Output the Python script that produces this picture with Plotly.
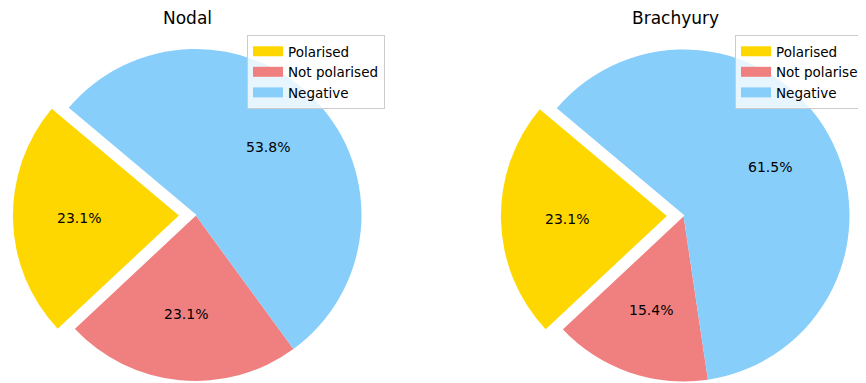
import math
import plotly.graph_objects as go

# ---- data ----
labels = ["Polarised", "Not polarised", "Negative"]
titles = ["Nodal", "Brachyury"]
nodal_values = [3, 3, 7]
brachyury_values = [3, 2, 8]
colors = ["#FFD700", "#F08080", "#87CEFA"]
explode = [0.1, 0, 0]
start_angle = 140  # degrees, counterclockwise from 3 o'clock

# ---- layout constants (pixels, in window coordinates) ----
W, H = 866, 383
OFF = 8  # default page body margin
R = 166
LABEL_R = 0.6
centers = [(195.5, 215.0), (683.5, 215.5)]
title_x = [187.5, 675.0]
title_y = 18
legend_pos = [(247, 35), (735, 35)]
FONT = "DejaVu Sans"

fig = go.Figure()


def domain_for(cx, cy, r):
    cx -= OFF
    cy -= OFF
    return dict(x=[(cx - r) / W, (cx + r) / W],
                y=[1 - (cy + r) / H, 1 - (cy - r) / H])


series = [nodal_values, brachyury_values]
for i, vals in enumerate(series):
    cx, cy = centers[i]
    dom = domain_for(cx, cy, R)
    total = sum(vals)
    # plotly (counterclockwise): first slice ends at `rotation` (clockwise from 12 o'clock)
    rot = 90 - start_angle - 360 * vals[0] / total
    # main pie (non-exploded slices)
    fig.add_trace(go.Pie(
        labels=labels, values=vals, sort=False, direction="counterclockwise",
        rotation=rot, domain=dom, marker=dict(colors=colors, line=dict(width=0)),
        textinfo="none", showlegend=False, hoverinfo="label+percent",
    ))
    # white cover for the exploded slice's original place
    fig.add_trace(go.Pie(
        labels=labels, values=vals, sort=False, direction="counterclockwise",
        rotation=rot, domain=dom,
        marker=dict(colors=["white" if e else "rgba(0,0,0,0)" for e in explode],
                    line=dict(width=[1.5 if e else 0 for e in explode], color="white")),
        textinfo="none", showlegend=False, hoverinfo="skip",
    ))
    # exploded slices shifted along their mid-angle, and percentage labels
    acc = 0
    for k, v in enumerate(vals):
        mid = math.radians(start_angle + 360 * (acc + v / 2) / total)
        ex = explode[k]
        if ex:
            dx = ex * R * math.cos(mid)
            dy = -ex * R * math.sin(mid)
            d2 = domain_for(cx + dx, cy + dy, R)
            fig.add_trace(go.Pie(
                labels=labels, values=vals, sort=False, direction="counterclockwise",
                rotation=rot, domain=d2,
                marker=dict(colors=[colors[j] if j == k else "rgba(0,0,0,0)" for j in range(len(vals))],
                            line=dict(width=0)),
                textinfo="none", showlegend=False, hoverinfo="label+percent",
            ))
        lx = cx + (LABEL_R + ex) * R * math.cos(mid) - OFF
        ly = cy - (LABEL_R + ex) * R * math.sin(mid) - OFF
        fig.add_annotation(text=f"{100 * v / total:.1f}%", x=lx / W, y=1 - ly / H,
                           xref="paper", yref="paper", xanchor="center", yanchor="middle",
                           showarrow=False, font=dict(family=FONT, size=14, color="black"))
        acc += v
    # legend entries (one legend per pie)
    legend_name = "legend" if i == 0 else "legend2"
    for lab, col in zip(labels, colors):
        fig.add_trace(go.Scatter(
            x=[None], y=[None], mode="lines", name=lab,
            line=dict(color=col, width=10), legend=legend_name, showlegend=True,
            hoverinfo="skip",
        ))

for i, t in enumerate(titles):
    fig.add_annotation(text=t, x=(title_x[i] - OFF) / W, y=1 - (title_y - OFF) / H,
                       xref="paper", yref="paper",
                       xanchor="center", yanchor="middle", showarrow=False,
                       font=dict(family=FONT, size=17, color="black"))

leg_common = dict(xanchor="left", yanchor="top", bgcolor="rgba(255,255,255,0.8)",
                  bordercolor="#cccccc", borderwidth=1,
                  font=dict(family=FONT, size=13.5, color="black"), traceorder="normal")
fig.update_layout(
    width=W, height=H, margin=dict(l=0, r=0, t=0, b=0),
    paper_bgcolor="white", plot_bgcolor="white",
    xaxis=dict(visible=False), yaxis=dict(visible=False),
    legend=dict(x=(legend_pos[0][0] - OFF) / W, y=1 - (legend_pos[0][1] - OFF) / H, **leg_common),
    legend2=dict(x=(legend_pos[1][0] - OFF) / W, y=1 - (legend_pos[1][1] - OFF) / H, **leg_common),
)

fig.write_html("out.html")
